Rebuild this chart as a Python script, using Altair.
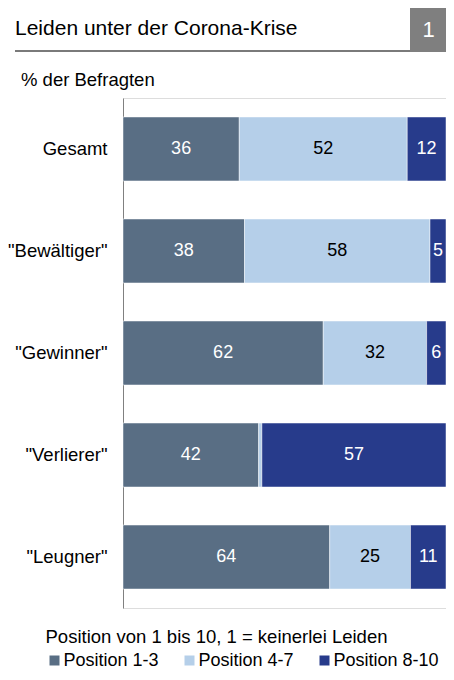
import altair as alt
import pandas as pd

categories = ['Gesamt', '"Bewältiger"', '"Gewinner"', '"Verlierer"', '"Leugner"']
series = ['Position 1-3', 'Position 4-7', 'Position 8-10']
pos_1_3 = [36, 38, 62, 42, 64]
pos_4_7 = [52, 58, 32, 1, 25]
pos_8_10 = [12, 5, 6, 57, 11]
colors = ['#596e84', '#b5cfe9', '#273b8b']
text_colors = ['white', 'black', 'white']

chart_title = 'Leiden unter der Corona-Krise'
chart_number = '1'
subtitle = '% der Befragten'
legend_title = 'Position von 1 bis 10, 1 = keinerlei Leiden'

rows = []
for i, c in enumerate(categories):
    for j, (s, vals) in enumerate(zip(series, [pos_1_3, pos_4_7, pos_8_10])):
        rows.append({'cat': c, 'series': s, 'order': j, 'value': vals[i],
                     'tcolor': text_colors[j]})
df = pd.DataFrame(rows)

FONT = 'Liberation Sans, Arial, sans-serif'
W = 323

base = alt.Chart(df).transform_stack(
    stack='value', groupby=['cat'], as_=['v0', 'v1'], offset='normalize',
    sort=[alt.SortField(field='order', order='ascending')]
).transform_calculate(mid='(datum.v0 + datum.v1) / 2')

y = alt.Y('cat:N', sort=categories,
          scale=alt.Scale(paddingInner=0.373, paddingOuter=0.186),
          axis=alt.Axis(title=None, ticks=False, labelPadding=16, labelFontSize=18.5,
                        labelColor='black', labelFont=FONT, domainColor='#808080',
                        domainWidth=1, labelLimit=200, grid=False))
xs = alt.Scale(domain=[0, 1])

bars = base.mark_bar(stroke='white', strokeWidth=0.8, strokeOpacity=0.6).encode(
    x=alt.X('v0:Q', scale=xs, axis=None),
    x2='v1:Q',
    y=y,
    color=alt.Color('series:N', scale=alt.Scale(domain=series, range=colors),
                    legend=alt.Legend(title=legend_title, orient='none', legendX=-77.5,
                                      legendY=530, direction='horizontal',
                                      titleFontSize=18.5, titleFontWeight='normal',
                                      titleFont=FONT, titleColor='black',
                                      labelFontSize=18, labelFont=FONT, labelColor='black',
                                      symbolType='square', symbolSize=100,
                                      symbolStrokeWidth=0, labelOffset=0,
                                      columnPadding=21, titlePadding=5,
                                      labelLimit=300, titleLimit=500)),
)

labels = base.transform_filter('datum.value >= 2').mark_text(
    font=FONT, fontSize=18, baseline='middle', align='center'
).encode(
    x=alt.X('mid:Q', scale=xs, axis=None),
    y=y,
    text='value:Q',
    fill=alt.Fill('tcolor:N', scale=None),
)

one = pd.DataFrame({'a': [0]})
title = alt.Chart(pd.DataFrame({'t': [chart_title]})).mark_text(
    font=FONT, fontSize=21, align='left', baseline='alphabetic', color='black'
).encode(x=alt.value(-108), y=alt.value(-63.5), text='t:N')

title_rule = alt.Chart(one).mark_rule(color='#7a7a7a', strokeWidth=2).encode(
    x=alt.value(-108), x2=alt.value(287), y=alt.value(-47))

box = alt.Chart(one).mark_rect(color='#7f7f7f').encode(
    x=alt.value(287), x2=alt.value(W), y=alt.value(-92), y2=alt.value(-46))

num = alt.Chart(pd.DataFrame({'t': [chart_number]})).mark_text(
    font=FONT, fontSize=22, align='center', baseline='alphabetic', color='white'
).encode(x=alt.value(305.5), y=alt.value(-61.5), text='t:N')

sub = alt.Chart(pd.DataFrame({'t': [subtitle]})).mark_text(
    font=FONT, fontSize=18.5, align='left', baseline='alphabetic', color='black'
).encode(x=alt.value(-102), y=alt.value(-12), text='t:N')

chart = alt.layer(bars, labels, title, title_rule, box, num, sub).properties(
    width=W, height=510,
    autosize=alt.AutoSizeParams(type='none'),
    padding={'left': 115, 'top': 90, 'right': 0, 'bottom': 64},
).configure_view(stroke=None).configure(background='white')

chart.save('out.html', embed_options={'renderer': 'svg', 'actions': False})
